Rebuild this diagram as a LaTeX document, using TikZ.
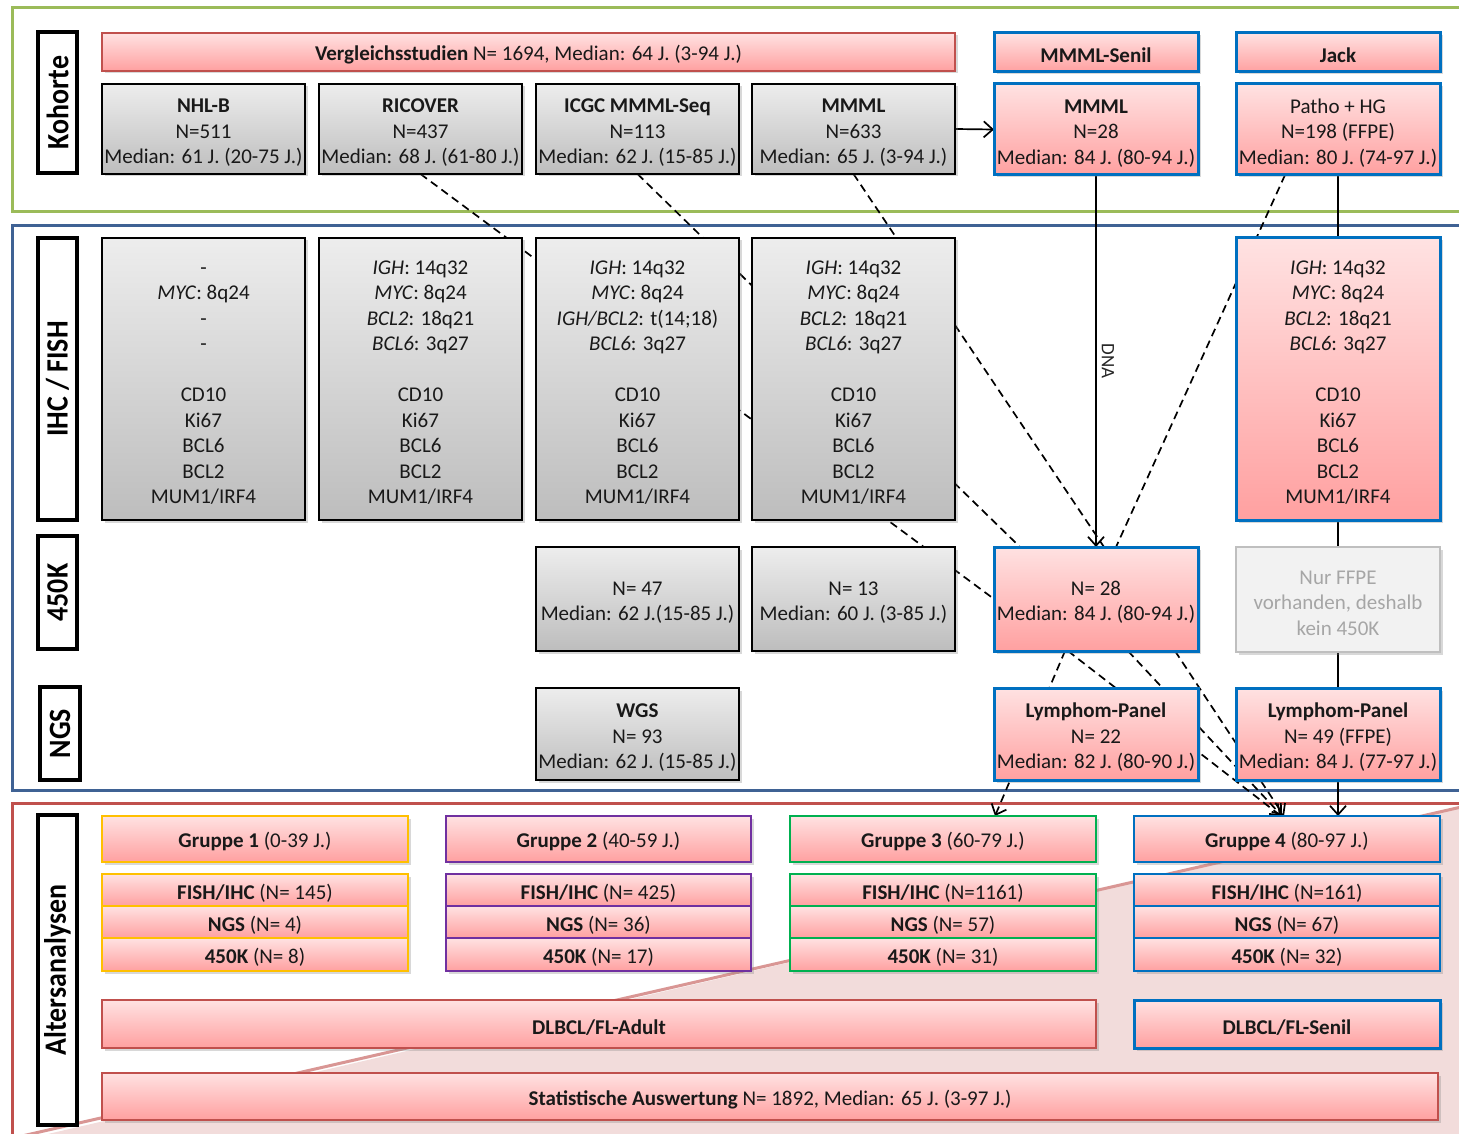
\documentclass[tikz,border=0pt]{standalone}
\usepackage{fontspec}
\setmainfont{Carlito}
\usepackage{graphicx}
\usetikzlibrary{arrows.meta,shadows}
\pgfdeclarelayer{back}
\pgfdeclarelayer{conn}
\pgfsetlayers{back,conn,main}
\definecolor{kgreen}{HTML}{9BBB59}
\definecolor{kblue}{HTML}{3F6294}
\definecolor{kred}{HTML}{C0504D}
\definecolor{bblue}{HTML}{0070C0}
\definecolor{pinkT}{HTML}{FFE2E2}
\definecolor{pinkB}{HTML}{FFA0A0}
\definecolor{grayT}{HTML}{EDEDED}
\definecolor{grayB}{HTML}{BDBDBD}
\definecolor{gyellow}{HTML}{FFC000}
\definecolor{gpurple}{HTML}{7030A0}
\definecolor{ggreen}{HTML}{00B050}
\definecolor{tri}{HTML}{F2DCDB}
\definecolor{triline}{HTML}{D99694}
\newcommand\bodyfont{\fontsize{21}{25.5}\selectfont}
\newcommand\labfont{\fontsize{31}{31}\selectfont\bfseries}
\newcommand\mybox[7]{\node[#2, minimum width={(#5-#3)*1pt}, minimum height={(#6-#4)*1pt}] (#1) at ({(#3+#5)/2},{(#4+#6)/2}) {\rule{0pt}{21pt}#7};}
\newcommand\lbl[1]{\rotatebox{90}{\scalebox{0.9}[1]{\labfont #1}}}
\tikzset{
  base/.style={inner sep=0pt, outer sep=0pt, align=center, font=\bodyfont, text=black!90,
    drop shadow={shadow xshift=2.5pt, shadow yshift=-2.5pt, opacity=.3}},
  graybox/.style={base, draw=black, line width=2pt, top color=grayT, bottom color=grayB},
  pinkred/.style={base, draw=kred, line width=2pt, top color=pinkT, bottom color=pinkB},
  pinkblue/.style={base, draw=bblue, line width=3pt, top color=pinkT, bottom color=pinkB},
  grp/.style={base, draw=#1, line width=2.5pt, top color=pinkT, bottom color=pinkB},
  ffpe/.style={base, draw=black!25, line width=2pt, fill=black!5, text=black!35},
  lab/.style={draw=black, line width=3.5pt, fill=white, inner sep=0pt, outer sep=0pt},
  conn/.style={line width=1.7pt, black},
  dsh/.style={conn, dash pattern=on 8pt off 5pt},
  tip/.style={-{Straight Barb[length=9pt,width=16pt]}}
}
\begin{document}
\begin{tikzpicture}[x=1pt,y=-1pt]
\useasboundingbox (0,0) rectangle (1459,1134);
% ---------- section frames ----------
\begin{pgfonlayer}{back}
  \fill[white] (0,0) rectangle (1459,1134);
  \fill[tri] (22,1140) -- (1470,805) -- (1470,1140) -- cycle;
  \draw[triline, line width=3pt] (22,1136) -- (1470,805);
  \draw[kgreen, line width=3pt] (12,8) rectangle (1480,212);
  \draw[kblue, line width=3pt] (12,226) rectangle (1480,790);
  \draw[kred, line width=3pt] (12,803) rectangle (1480,1150);
\end{pgfonlayer}
% ---------- row labels ----------
\mybox{lk}{lab}{38}{32}{77}{173}{\lbl{Kohorte}}
\mybox{li}{lab}{38}{238}{77}{520}{\lbl{IHC / FISH}}
\mybox{l4}{lab}{38}{536}{77}{649}{\lbl{450K}}
\mybox{ln}{lab}{40}{687}{80}{780}{\lbl{NGS}}
\mybox{la}{lab}{38}{815}{77}{1125}{\lbl{Altersanalysen}}
% ---------- Kohorte ----------
\mybox{vs}{pinkred}{102}{33}{955}{71}{\textbf{Vergleichsstudien} N= 1694, Median: 64 J. (3-94 J.)}
\mybox{senil}{pinkblue}{994}{33}{1198}{72}{\textbf{MMML-Senil}}
\mybox{jack}{pinkblue}{1236}{33}{1440}{72}{\textbf{Jack}}
\mybox{nhlb}{graybox}{102}{84}{305}{174}{\textbf{NHL-B}\\N=511\\Median: 61 J. (20-75 J.)}
\mybox{ricover}{graybox}{319}{84}{522}{174}{\textbf{RICOVER}\\N=437\\Median: 68 J. (61-80 J.)}
\mybox{icgc}{graybox}{536}{84}{739}{174}{\textbf{ICGC MMML-Seq}\\N=113\\Median: 62 J. (15-85 J.)}
\mybox{mmml}{graybox}{752}{84}{955}{174}{\textbf{MMML}\\N=633\\Median: 65 J. (3-94 J.)}
\mybox{mmmlp}{pinkblue}{994}{84}{1198}{175}{\textbf{MMML}\\N=28\\Median: 84 J. (80-94 J.)}
\mybox{patho}{pinkblue}{1236}{84}{1440}{175}{Patho + HG\\N=198 (FFPE)\\Median: 80 J. (74-97 J.)}
% ---------- IHC / FISH ----------
\mybox{ihca}{graybox}{102}{238}{305}{520}{-\\\textit{MYC}: 8q24\\-\\-\\~\\CD10\\Ki67\\BCL6\\BCL2\\MUM1/IRF4}
\mybox{ihcb}{graybox}{319}{238}{522}{520}{\textit{IGH}: 14q32\\\textit{MYC}: 8q24\\\textit{BCL2}: 18q21\\\textit{BCL6}: 3q27\\~\\CD10\\Ki67\\BCL6\\BCL2\\MUM1/IRF4}
\mybox{ihcc}{graybox}{536}{238}{739}{520}{\textit{IGH}: 14q32\\\textit{MYC}: 8q24\\\textit{IGH/BCL2}: t(14;18)\\\textit{BCL6}: 3q27\\~\\CD10\\Ki67\\BCL6\\BCL2\\MUM1/IRF4}
\mybox{ihcd}{graybox}{752}{238}{955}{520}{\textit{IGH}: 14q32\\\textit{MYC}: 8q24\\\textit{BCL2}: 18q21\\\textit{BCL6}: 3q27\\~\\CD10\\Ki67\\BCL6\\BCL2\\MUM1/IRF4}
\mybox{ihcj}{pinkblue}{1236}{238}{1440}{520}{\textit{IGH}: 14q32\\\textit{MYC}: 8q24\\\textit{BCL2}: 18q21\\\textit{BCL6}: 3q27\\~\\CD10\\Ki67\\BCL6\\BCL2\\MUM1/IRF4}
% ---------- 450K ----------
\mybox{ka}{graybox}{536}{547}{739}{651}{N= 47\\Median: 62 J.(15-85 J.)}
\mybox{kb}{graybox}{752}{547}{955}{651}{N= 13\\Median: 60 J. (3-85 J.)}
\mybox{n28}{pinkblue}{994}{547}{1198}{651}{N= 28\\Median: 84 J. (80-94 J.)}
\mybox{nur}{ffpe}{1236}{547}{1440}{652}{Nur FFPE\\vorhanden, deshalb\\kein 450K}
% ---------- NGS ----------
\mybox{wgs}{graybox}{536}{688}{739}{780}{\textbf{WGS}\\N= 93\\Median: 62 J. (15-85 J.)}
\mybox{lpa}{pinkblue}{994}{688}{1198}{780}{\textbf{Lymphom-Panel}\\N= 22\\Median: 82 J. (80-90 J.)}
\mybox{lpb}{pinkblue}{1236}{688}{1440}{780}{\textbf{Lymphom-Panel}\\N= 49 (FFPE)\\Median: 84 J. (77-97 J.)}
% ---------- Altersanalysen ----------
\mybox{g1}{grp=gyellow}{102}{816}{408}{862}{\textbf{Gruppe 1} (0-39 J.)}
\mybox{g1f}{grp=gyellow}{102}{874}{408}{906}{\textbf{FISH/IHC} (N= 145)}
\mybox{g1n}{grp=gyellow}{102}{906}{408}{938}{\textbf{NGS} (N= 4)}
\mybox{g1k}{grp=gyellow}{102}{938}{408}{971}{\textbf{450K} (N= 8)}
\mybox{g2}{grp=gpurple}{446}{816}{751}{862}{\textbf{Gruppe 2} (40-59 J.)}
\mybox{g2f}{grp=gpurple}{446}{874}{751}{906}{\textbf{FISH/IHC} (N= 425)}
\mybox{g2n}{grp=gpurple}{446}{906}{751}{938}{\textbf{NGS} (N= 36)}
\mybox{g2k}{grp=gpurple}{446}{938}{751}{971}{\textbf{450K} (N= 17)}
\mybox{g3}{grp=ggreen}{790}{816}{1096}{862}{\textbf{Gruppe 3} (60-79 J.)}
\mybox{g3f}{grp=ggreen}{790}{874}{1096}{906}{\textbf{FISH/IHC} (N=1161)}
\mybox{g3n}{grp=ggreen}{790}{906}{1096}{938}{\textbf{NGS} (N= 57)}
\mybox{g3k}{grp=ggreen}{790}{938}{1096}{971}{\textbf{450K} (N= 31)}
\mybox{g4}{grp=bblue}{1134}{816}{1440}{862}{\textbf{Gruppe 4} (80-97 J.)}
\mybox{g4f}{grp=bblue}{1134}{874}{1440}{906}{\textbf{FISH/IHC} (N=161)}
\mybox{g4n}{grp=bblue}{1134}{906}{1440}{938}{\textbf{NGS} (N= 67)}
\mybox{g4k}{grp=bblue}{1134}{938}{1440}{971}{\textbf{450K} (N= 32)}
\mybox{adult}{pinkred}{102}{1000}{1096}{1048}{\textbf{DLBCL/FL-Adult}}
\mybox{senil2}{pinkblue}{1134}{1000}{1440}{1048}{\textbf{DLBCL/FL-Senil}}
\mybox{stat}{pinkred}{102}{1073}{1438}{1120}{\textbf{Statistische Auswertung} N= 1892, Median: 65 J. (3-97 J.)}
% ---------- connectors ----------
\begin{pgfonlayer}{conn}
  \draw[conn, tip] (mmml.east) -- (mmmlp.west);
  \draw[conn, tip] (mmmlp.south) -- (n28.north)
    node[pos=0.5, anchor=south, rotate=-90, inner sep=5pt, font=\fontsize{19}{19}\selectfont, text=black!85] {DNA};
  \draw[conn, tip] (patho.south) -- (g4.north -| patho.south);
  \draw[dsh] (ricover.south) -- (n28.west);
  \draw[dsh] (icgc.south) -- ([xshift=26pt]n28.north west);
  \draw[dsh] (mmml.south) -- ([xshift=8pt]n28.north);
  \draw[dsh] ([xshift=-53pt]patho.south) -- ([xshift=20pt]n28.north);
  \draw[dsh, tip] ([xshift=-31pt]n28.south) -- ([xshift=52pt]g3.north);
  \draw[dsh, tip] ([xshift=-28pt]n28.south) -- ([xshift=-6pt]g4.north);
  \draw[dsh, tip] ([xshift=32pt]n28.south) -- ([xshift=-5pt]g4.north);
  \draw[dsh, tip] ([xshift=79pt]n28.south) -- ([xshift=-3pt]g4.north);
\end{pgfonlayer}
\end{tikzpicture}
\end{document}
